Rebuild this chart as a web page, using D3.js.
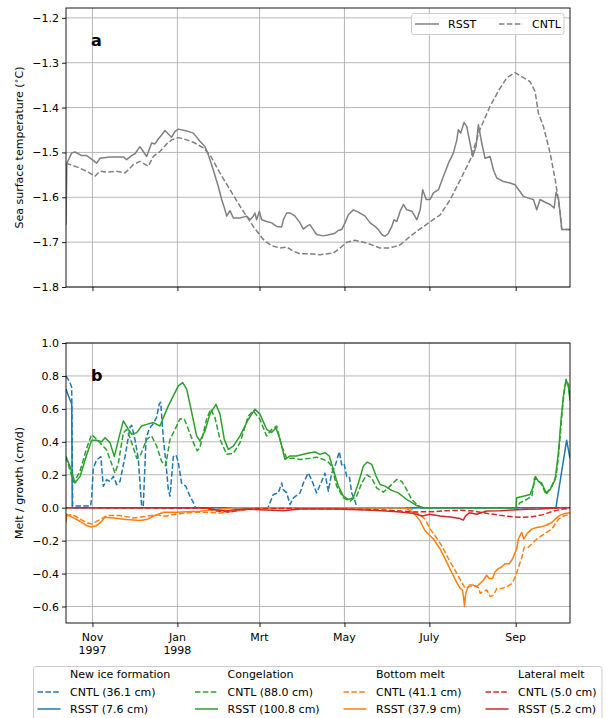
<!DOCTYPE html>
<html>
<head>
<meta charset="utf-8">
<script src="https://cdnjs.cloudflare.com/ajax/libs/d3/7.8.5/d3.min.js"></script>
<style>
  body { margin: 0; background: #fff; }
  svg { font-family: "DejaVu Sans", sans-serif; }
</style>
</head>
<body>
<svg id="chart" width="606" height="718"></svg>
<script>
// days counted from 13 Oct 1997
const startDate = Date.UTC(1997, 9, 13);
const endDate = Date.UTC(1998, 9, 10);

const monthTicks = [Date.UTC(1997, 10, 1), Date.UTC(1998, 0, 1), Date.UTC(1998, 2, 1),
                    Date.UTC(1998, 4, 1), Date.UTC(1998, 6, 1), Date.UTC(1998, 8, 1)];
const monthLabels = [['Nov', '1997'], ['Jan', '1998'], ['Mrt'], ['May'], ['July'], ['Sep']];
const sstTicks = [-1.8, -1.7, -1.6, -1.5, -1.4, -1.3, -1.2];
const meltTicks = [-0.6, -0.4, -0.2, 0.0, 0.2, 0.4, 0.6, 0.8, 1.0];

const groupNames = ['New ice formation', 'Congelation', 'Bottom melt', 'Lateral melt'];
const totalsCNTL = ['36.1', '88.0', '41.1', '5.0'];
const totalsRSST = ['7.6', '100.8', '37.9', '5.2'];

// panel a: sea surface temperature
const sstRSST = [[0,-1.661],[0.6,-1.524],[4.1,-1.501],[6.5,-1.499],[11.3,-1.507],[14.8,-1.507],[18.4,-1.515],
  [22,-1.524],[24.4,-1.513],[31.6,-1.51],[41.2,-1.51],[43.6,-1.516],[47.2,-1.507],[49.6,-1.503],[53.1,-1.487],
  [55.5,-1.498],[57.9,-1.509],[61.5,-1.479],[63.9,-1.481],[66.3,-1.47],[68.7,-1.461],[71.1,-1.451],[73.5,-1.459],
  [75.9,-1.466],[78.3,-1.453],[80.7,-1.448],[86.7,-1.452],[91.5,-1.457],[96.2,-1.475],[99.8,-1.487],[102.2,-1.505],
  [105.8,-1.539],[109.4,-1.576],[111.8,-1.605],[114.2,-1.628],[115.4,-1.642],[117.8,-1.63],[120.2,-1.646],
  [125,-1.646],[129.8,-1.642],[132.2,-1.65],[134.5,-1.642],[135.7,-1.635],[136.9,-1.65],[138.9,-1.631],
  [140.5,-1.65],[144.1,-1.654],[147.7,-1.657],[151.3,-1.665],[154.9,-1.666],[156.1,-1.65],[158.5,-1.635],
  [160.9,-1.635],[164.5,-1.642],[168.1,-1.657],[170.5,-1.671],[172.9,-1.665],[175.2,-1.661],[177.6,-1.672],
  [180,-1.683],[184.8,-1.686],[189.6,-1.683],[193.2,-1.68],[195.6,-1.674],[198,-1.672],[200.4,-1.657],
  [202.8,-1.639],[206.4,-1.628],[210,-1.633],[214.8,-1.642],[218.4,-1.657],[222,-1.665],[224.4,-1.672],
  [226.8,-1.683],[229.2,-1.687],[231.6,-1.68],[234,-1.665],[235.6,-1.65],[237.6,-1.654],[240,-1.631],
  [242.4,-1.616],[244.8,-1.628],[248.4,-1.631],[252,-1.65],[254.4,-1.628],[256.2,-1.583],[258.7,-1.605],
  [261.5,-1.605],[263.9,-1.59],[267.5,-1.583],[271.1,-1.553],[274.7,-1.524],[278.3,-1.501],[280.7,-1.472],
  [281.8,-1.449],[283.5,-1.457],[285.9,-1.433],[287.8,-1.442],[290.2,-1.479],[292.1,-1.509],[294.5,-1.487],
  [296.2,-1.438],[298.6,-1.479],[301,-1.513],[304.6,-1.509],[307,-1.539],[309.4,-1.557],[314.2,-1.565],
  [319,-1.568],[322.5,-1.572],[326.1,-1.587],[328.5,-1.598],[333.3,-1.603],[335.7,-1.605],[338.1,-1.628],
  [340.5,-1.605],[344.1,-1.611],[347.7,-1.616],[350.6,-1.624],[352,-1.589],[353.7,-1.602],[356.1,-1.672],
  [362,-1.672]];
const sstCNTL = [[0,-1.524],[2.9,-1.527],[10,-1.535],[17.2,-1.546],[20.8,-1.553],[24.4,-1.542],[29.2,-1.544],
  [36.4,-1.542],[42.4,-1.546],[48.4,-1.527],[53.1,-1.52],[59.1,-1.531],[62.7,-1.509],[67.5,-1.498],[72.3,-1.481],
  [75.9,-1.472],[80.7,-1.467],[86.7,-1.472],[92.6,-1.479],[98.6,-1.49],[103.4,-1.505],[110.6,-1.546],
  [117.8,-1.583],[125,-1.62],[134.5,-1.665],[141.7,-1.694],[147.7,-1.708],[153.7,-1.713],[158.5,-1.711],
  [163.3,-1.72],[168.1,-1.726],[175.2,-1.726],[182.5,-1.728],[192.1,-1.724],[196.9,-1.713],[201.7,-1.7],
  [207.6,-1.696],[216,-1.702],[225.6,-1.713],[232.8,-1.713],[240,-1.706],[247.2,-1.687],[256.8,-1.665],
  [268.8,-1.639],[276,-1.605],[283.2,-1.561],[290.4,-1.516],[297.3,-1.449],[304.6,-1.397],[311.7,-1.357],
  [316.5,-1.334],[322.5,-1.322],[327.3,-1.331],[333.3,-1.342],[336.9,-1.364],[339.3,-1.412],[342.9,-1.442],
  [347.7,-1.501],[351.4,-1.561],[355,-1.635],[356.1,-1.672],[362,-1.672]];

// panel b: melt / growth rates (cm/d)
const newIceCNTL = [[0,0.8],[2.9,0.76],[4.1,0.73],[4.8,0.01],[17.7,0.01],[18.4,0.06],[19.6,0.24],[22,0.29],
  [25,0.31],[26.8,0.13],[29.2,0.17],[31.6,0.16],[34,0.19],[36.4,0.14],[38.8,0.16],[42.4,0.31],[46,0.49],
  [47.2,0.5],[49.6,0.41],[51.9,0.3],[54.3,0.01],[55.5,0.01],[57.5,0.42],[59.8,0.48],[62.7,0.51],[65.1,0.55],
  [67,0.63],[68,0.64],[69.9,0.42],[71.8,0.27],[73.5,0.11],[74.7,0.07],[77.1,0.31],[79,0.32],[80.6,0.28],
  [83,0.15],[86.1,0.13],[89,0.07],[92.2,0.02],[93,0],[145,0],[148.9,0.08],[152.5,0.09],[154.9,0.15],
  [156,0.11],[158.5,0.09],[160.9,0.02],[163.3,0.06],[168.1,0.09],[170.5,0.15],[174,0.21],[176.4,0.17],
  [180,0.09],[183.6,0.16],[186,0.21],[188.4,0.1],[190.8,0.21],[193.2,0.25],[194.9,0.3],[196.3,0.34],
  [198,0.26],[199.7,0.27],[201.6,0.19],[203.5,0.19],[205.2,0.09],[207.6,0.04],[209,0],[362,0]];
const newIceRSST = [[0,0.72],[1.7,0.68],[4.1,0.63],[4.5,0],[351.9,0],[359.6,0.41],[362,0.3]];
const congCNTL = [[0,0.31],[1.7,0.26],[4.1,0.19],[5.7,0.155],[10,0.22],[14.8,0.36],[18.4,0.445],[24.4,0.395],
  [29.2,0.35],[35.2,0.21],[37.6,0.27],[41.2,0.455],[43.6,0.475],[47.2,0.395],[50.8,0.3],[53.1,0.31],
  [57.9,0.415],[61.5,0.435],[65.1,0.375],[68.7,0.28],[71.6,0.255],[74.7,0.415],[78.3,0.475],[81.9,0.54],
  [85,0.537],[87.9,0.475],[91.5,0.395],[94.3,0.345],[96.2,0.365],[101,0.537],[103.9,0.598],[107,0.547],
  [110.6,0.415],[115.4,0.324],[120.2,0.33],[125,0.395],[131,0.557],[134.5,0.588],[139.3,0.537],[144.1,0.435],
  [147.7,0.475],[151.3,0.496],[154.9,0.375],[158.5,0.3],[163.3,0.3],[168.1,0.293],[175.3,0.3],[180,0.307],
  [184.9,0.293],[188.4,0.277],[190.8,0.253],[194.4,0.131],[199.2,0.06],[204,0.04],[208.8,0.07],[212.4,0.15],
  [216,0.2],[219.6,0.18],[223.1,0.12],[227.9,0.094],[232.7,0.131],[237.5,0.171],[241.1,0.16],[244.7,0.11],
  [248.3,0.05],[251.9,0.02],[255,0],[323.2,0],[326.1,0.03],[330.9,0.05],[334.6,0.07],[336.5,0.18],
  [338.6,0.17],[341.7,0.14],[344.8,0.08],[348.9,0.13],[352,0.19],[353.7,0.31],[356.1,0.557],[357.7,0.7],
  [359.2,0.77],[360.9,0.75],[362,0.67]];
const congRSST = [[0,0.31],[2.9,0.25],[6.5,0.15],[10.1,0.19],[14.8,0.32],[18.4,0.41],[22,0.41],[25.6,0.4],
  [28,0.425],[31.6,0.395],[34.7,0.31],[38.3,0.435],[41.2,0.527],[44.8,0.476],[47.2,0.446],[50.8,0.456],
  [54.3,0.496],[57.9,0.506],[62.7,0.517],[67.5,0.496],[69.9,0.547],[73.5,0.618],[77.1,0.679],[80.7,0.74],
  [83.8,0.76],[86.7,0.72],[90.3,0.578],[93.8,0.436],[96.2,0.405],[99.8,0.466],[103.4,0.568],[107.7,0.628],
  [110.6,0.568],[113.7,0.415],[116.6,0.354],[120.2,0.374],[125,0.436],[131,0.537],[135.7,0.598],[139.3,0.568],
  [144.1,0.476],[147.7,0.456],[150.8,0.486],[153.7,0.415],[157.3,0.293],[160.9,0.314],[165.7,0.314],
  [170.5,0.324],[175.3,0.334],[178.9,0.338],[182.4,0.324],[186,0.334],[189.1,0.314],[192,0.232],[195.6,0.131],
  [199.2,0.07],[202.8,0.05],[206.4,0.06],[210,0.15],[213.6,0.253],[216.4,0.277],[219.6,0.263],[222.7,0.192],
  [225.6,0.141],[229.1,0.131],[233.9,0.105],[238.7,0.09],[244.7,0.05],[251.9,0.013],[256.7,0],[323.2,0],
  [323.7,0.06],[328.5,0.07],[333.3,0.08],[335.7,0.13],[337.1,0.19],[339.3,0.16],[341.7,0.15],[344.8,0.09],
  [347.7,0.11],[351.3,0.17],[353.7,0.334],[355.6,0.537],[357.3,0.679],[359.2,0.78],[360.9,0.73],[362,0.65]];
const bottomCNTL = [[0,-0.05],[4.1,-0.04],[10,-0.068],[14.8,-0.092],[18.4,-0.098],[24.4,-0.072],[29.2,-0.048],
  [38.8,-0.048],[48.4,-0.062],[57.9,-0.052],[65.1,-0.042],[71.1,-0.052],[79.5,-0.038],[91.5,-0.028],
  [101,-0.028],[110.6,-0.032],[120.2,-0.022],[129.8,-0.012],[139.3,-0.005],[145,0],[245,0],[247.1,-0.005],
  [251.9,-0.03],[257.9,-0.07],[261.5,-0.13],[265.1,-0.17],[269.9,-0.23],[274.7,-0.31],[279.5,-0.38],
  [284.3,-0.455],[286.7,-0.49],[290.3,-0.475],[293.9,-0.475],[296.3,-0.485],[297.5,-0.52],[299.4,-0.51],
  [302.3,-0.5],[304.7,-0.54],[307.1,-0.53],[309.5,-0.49],[313.1,-0.49],[316.7,-0.48],[320.3,-0.46],
  [322.7,-0.42],[325.1,-0.36],[327.5,-0.3],[329.1,-0.24],[332.1,-0.24],[334.5,-0.22],[338.1,-0.19],
  [341.7,-0.17],[345.3,-0.15],[348.9,-0.13],[351.3,-0.1],[353.7,-0.07],[357.3,-0.05],[362,-0.04]];
const bottomRSST = [[0,-0.09],[0.5,-0.04],[4.1,-0.056],[10,-0.082],[14.8,-0.109],[18.4,-0.117],[22,-0.109],
  [25.6,-0.082],[28,-0.058],[34,-0.062],[43.6,-0.072],[53.1,-0.078],[57.9,-0.072],[62.7,-0.052],[69.9,-0.028],
  [79.5,-0.028],[86.7,-0.024],[96.2,-0.022],[105.8,-0.012],[115.4,-0.005],[120.2,0],[242,0],[244.7,-0.005],
  [249.5,-0.03],[254.3,-0.08],[257.9,-0.14],[260.3,-0.16],[263.9,-0.19],[268.7,-0.25],[273.5,-0.33],
  [277.1,-0.395],[280.7,-0.455],[283.1,-0.49],[284.8,-0.5],[285.5,-0.54],[286.2,-0.6],[287.1,-0.52],
  [288.4,-0.49],[289.8,-0.47],[292.6,-0.47],[295,-0.48],[297.4,-0.46],[299.8,-0.44],[302.1,-0.41],[304,-0.43],
  [306.4,-0.43],[308.1,-0.39],[310.5,-0.37],[312.9,-0.36],[315.3,-0.34],[318.4,-0.34],[320.8,-0.31],
  [323.7,-0.25],[324.9,-0.19],[327.3,-0.15],[328.9,-0.19],[330.9,-0.16],[334.5,-0.13],[338.1,-0.12],
  [341.7,-0.115],[345.3,-0.105],[348.9,-0.09],[352,-0.065],[354.9,-0.045],[358.5,-0.035],[362,-0.03]];
const lateralCNTL = [[0,0],[101,-0.004],[108,-0.02],[117.8,-0.026],[125,-0.014],[135,-0.005],[160,-0.005],
  [200,-0.008],[228,-0.014],[240,-0.02],[249.5,-0.026],[263.9,-0.024],[273.5,-0.018],[283,-0.016],
  [292.6,-0.02],[302.1,-0.034],[311.7,-0.046],[321.3,-0.056],[328.5,-0.058],[335.7,-0.054],[342.9,-0.042],
  [350.1,-0.02],[357.3,-0.008],[362,-0.004]];
const lateralRSST = [[0,0],[100,0],[108,-0.014],[115,-0.02],[120,-0.014],[130,-0.008],[144,-0.014],
  [156,-0.018],[168,-0.008],[192,-0.008],[216,-0.014],[230,-0.02],[240,-0.026],[249,-0.034],[256,-0.05],
  [261,-0.04],[268.7,-0.05],[276,-0.056],[283,-0.066],[285.4,-0.075],[287,-0.05],[290,-0.03],[295,-0.04],
  [302.1,-0.02],[311.7,-0.018],[321,-0.014],[330.9,-0.01],[340.5,-0.008],[350,-0.004],[357,0],[362,0]];

const svg = d3.select('#chart');
const left = 66, right = 570;
const dash = '5.5,2.4';
const fs = 11;

const x = d3.scaleUtc().domain([startDate, endDate]).range([left, right]);
const dayX = d => x(startDate + d * 864e5);

let drawPanel = function (id, top, bottom, y, yTicks, fmt) {
    const g = svg.append('g');
    svg.append('clipPath').attr('id', 'clip' + id)
        .append('rect').attr('x', left).attr('y', top).attr('width', right - left).attr('height', bottom - top);

    // grid
    g.selectAll('.vg').data(monthTicks).enter().append('line')
        .attr('x1', d => x(d)).attr('x2', d => x(d)).attr('y1', top).attr('y2', bottom)
        .attr('stroke', '#b0b0b0').attr('stroke-width', 0.9);
    g.selectAll('.hg').data(yTicks).enter().append('line')
        .attr('x1', left).attr('x2', right).attr('y1', d => y(d)).attr('y2', d => y(d))
        .attr('stroke', '#b0b0b0').attr('stroke-width', 0.9);

    const ya = svg.append('g').attr('transform', `translate(${left},0)`)
        .call(d3.axisLeft(y).tickValues(yTicks).tickFormat(fmt).tickSize(4).tickPadding(3));
    const xa = svg.append('g').attr('transform', `translate(0,${bottom})`)
        .call(d3.axisBottom(x).tickValues(monthTicks).tickFormat('').tickSize(4));
    [ya, xa].forEach(a => {
        a.select('.domain').remove();
        a.selectAll('line').attr('stroke', '#000').attr('stroke-width', 0.9);
        a.selectAll('text').attr('font-size', fs).attr('fill', '#000')
            .attr('font-family', '"DejaVu Sans", sans-serif');
    });
    return g;
}

let addLine = function (g, id, data, y, color, dashed) {
    const line = d3.line().x(d => dayX(d[0])).y(d => y(d[1]));
    g.append('path')
        .attr('d', line(data))
        .attr('clip-path', `url(#clip${id})`)
        .attr('fill', 'none')
        .attr('stroke', color)
        .attr('stroke-width', 1.5)
        .attr('stroke-linejoin', 'round')
        .attr('stroke-dasharray', dashed ? dash : null);
}

let frame = function (top, bottom) {
    svg.append('rect').attr('x', left).attr('y', top).attr('width', right - left).attr('height', bottom - top)
        .attr('fill', 'none').attr('stroke', '#000').attr('stroke-width', 0.9);
}

// ---- panel a ----
const topA = 8, botA = 287;
const yA = d3.scaleLinear().domain([-1.8, -1.178]).range([botA, topA]);
const gA = drawPanel('a', topA, botA, yA, sstTicks, d3.format('.1f'));
addLine(gA, 'a', sstRSST, yA, 'grey', false);
addLine(gA, 'a', sstCNTL, yA, 'grey', true);
frame(topA, botA);

svg.append('text').attr('x', 91).attr('y', 46).attr('font-size', 16).attr('font-weight', 'bold').text('a');
svg.append('text')
    .attr('transform', `translate(23,${(topA + botA) / 2}) rotate(-90)`)
    .attr('text-anchor', 'middle').attr('font-size', fs)
    .text('Sea surface temperature (')
    .call(t => t.append('tspan').attr('font-size', 8).attr('dy', -4).text('\u2218'))
    .call(t => t.append('tspan').attr('dy', 4).text('C)'));

// legend a
const la = svg.append('g');
la.append('rect').attr('x', 411.5).attr('y', 13.5).attr('width', 152.5).attr('height', 21).attr('rx', 2.5)
    .attr('fill', '#fff').attr('fill-opacity', 0.8).attr('stroke', '#cccccc');
[['RSST', false, 415], ['CNTL', true, 499]].forEach(([name, dashed, lx]) => {
    la.append('line').attr('x1', lx).attr('x2', lx + 24).attr('y1', 24).attr('y2', 24)
        .attr('stroke', 'grey').attr('stroke-width', 1.5).attr('stroke-dasharray', dashed ? dash : null);
    la.append('text').attr('x', lx + 33).attr('y', 28).attr('font-size', fs).text(name);
});

// ---- panel b ----
const topB = 343, botB = 623;
const yB = d3.scaleLinear().domain([-0.7, 1.0]).range([botB, topB]);
const gB = drawPanel('b', topB, botB, yB, meltTicks, d3.format('.1f'));
const colors = ['#1f77b4', '#2ca02c', '#ff7f0e', '#d62728'];
const seriesCNTL = [newIceCNTL, congCNTL, bottomCNTL, lateralCNTL];
const seriesRSST = [newIceRSST, congRSST, bottomRSST, lateralRSST];
for (let i = 0; i < 4; i++) {
    addLine(gB, 'b', seriesCNTL[i], yB, colors[i], true);
    addLine(gB, 'b', seriesRSST[i], yB, colors[i], false);
}
frame(topB, botB);

svg.append('text').attr('x', 91).attr('y', 381).attr('font-size', 16).attr('font-weight', 'bold').text('b');
svg.append('text')
    .attr('transform', `translate(23,${(topB + botB) / 2}) rotate(-90)`)
    .attr('text-anchor', 'middle').attr('font-size', fs)
    .text('Melt / growth (cm/d)');

// month labels
monthLabels.forEach((lab, i) => {
    lab.forEach((s, j) => {
        svg.append('text').attr('x', x(monthTicks[i])).attr('y', botB + 18 + j * 13)
            .attr('text-anchor', 'middle').attr('font-size', fs).text(s);
    });
});

// legend b
const lb = svg.append('g');
lb.append('rect').attr('x', 33.5).attr('y', 666.5).attr('width', 568.5).attr('height', 70).attr('rx', 2.5)
    .attr('fill', '#fff').attr('stroke', '#cccccc');
const colX = [37.5, 195, 343.5, 485.5];
groupNames.forEach((name, i) => {
    const cx = colX[i];
    lb.append('text').attr('x', cx + 32.5).attr('y', 678).attr('font-size', fs).text(name);
    [['CNTL (' + totalsCNTL[i] + ' cm)', true, 692], ['RSST (' + totalsRSST[i] + ' cm)', false, 709]]
        .forEach(([txt, dashed, yy]) => {
            lb.append('line').attr('x1', cx).attr('x2', cx + 23).attr('y1', yy).attr('y2', yy)
                .attr('stroke', colors[i]).attr('stroke-width', 1.5).attr('stroke-dasharray', dashed ? dash : null);
            lb.append('text').attr('x', cx + 32.5).attr('y', yy + 4).attr('font-size', fs).text(txt);
        });
});
</script>
</body>
</html>
